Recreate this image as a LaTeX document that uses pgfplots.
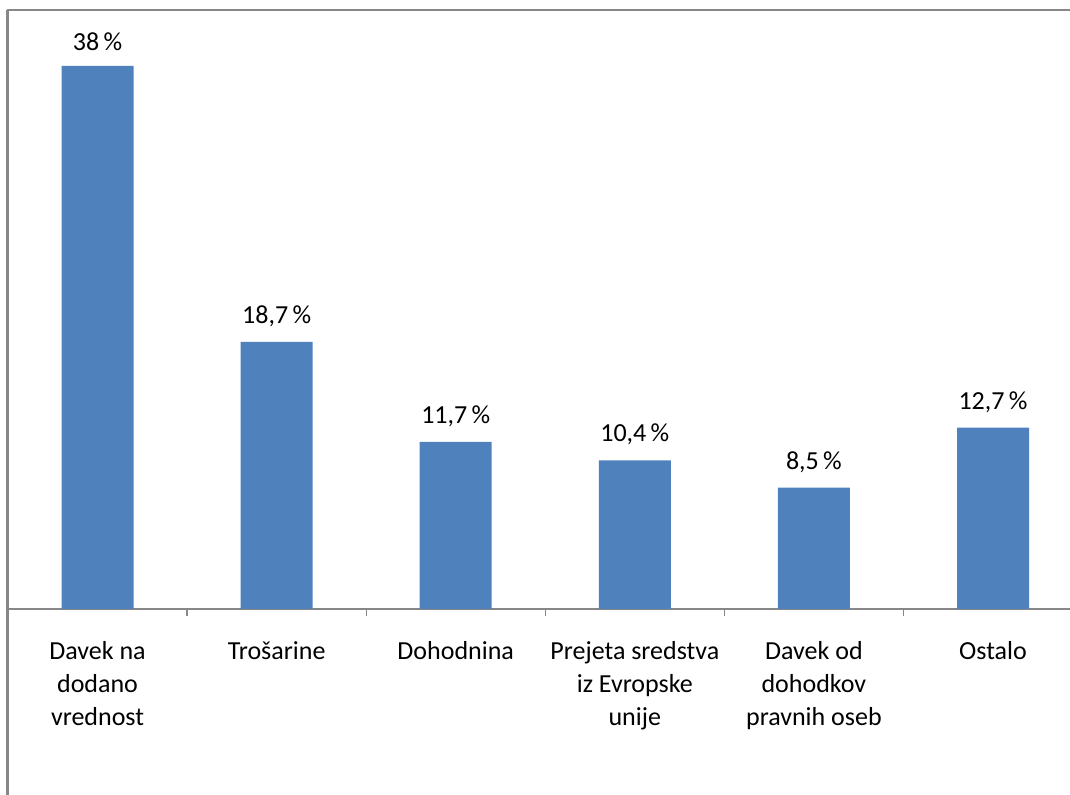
\documentclass[border=0pt]{standalone}
\usepackage{pgfplots}
\pgfplotsset{compat=1.18}
\usepackage{fontspec}
\setmainfont{Carlito}
\definecolor{barblue}{HTML}{4F81BD}
\definecolor{framegray}{HTML}{878787}
\begin{document}
\begin{tikzpicture}
\begin{axis}[
  at={(4pt,93pt)}, anchor=south west,
  scale only axis,
  width=531pt, height=285.8pt,
  xmin=-0.5, xmax=5.43,
  ymin=0, ymax=40,
  clip=false,
  axis x line*=bottom,
  axis y line=none,
  x axis line style={framegray, line width=0.6pt},
  xtick={0,1,2,3,4,5},
  xticklabels={{\vphantom{Š}Davek na\\dodano\\vrednost},{\vphantom{Š}Trošarine},{\vphantom{Š}Dohodnina},{\vphantom{Š}Prejeta sredstva\\iz Evropske\\unije},{\vphantom{Š}Davek od\\dohodkov\\pravnih oseb},{\vphantom{Š}Ostalo}},
  major tick length=0pt,
  xticklabel style={anchor=north, align=center, yshift=-11pt, font=\fontsize{13}{16.5}\selectfont},
  extra x ticks={0.5,1.5,2.5,3.5,4.5},
  extra x tick labels={},
  extra x tick style={major tick length=3.5pt, tick align=outside, tick style={framegray, line width=0.6pt}},
  ybar, bar width=36pt,
  nodes near coords={\pgfmathprintnumber[use comma, fixed, precision=1, assume math mode=true]{\pgfplotspointmeta}\,\%},
  every node near coord/.append style={font=\fontsize{13}{16}\selectfont, black, yshift=4pt},
]
\addplot[fill=barblue, draw=none] coordinates {(0,38) (1,18.7) (2,11.7) (3,10.4) (4,8.5) (5,12.7)};
\end{axis}
\draw[framegray, line width=1pt] (4pt,0pt) -- (4pt,392.5pt) -- (535pt,392.5pt);
\draw[framegray, line width=1.4pt] (3.8pt,0pt) -- (3.8pt,392.5pt);
\pgfresetboundingbox
\useasboundingbox (0,0) rectangle (535pt,397.5pt);
\end{tikzpicture}
\end{document}
